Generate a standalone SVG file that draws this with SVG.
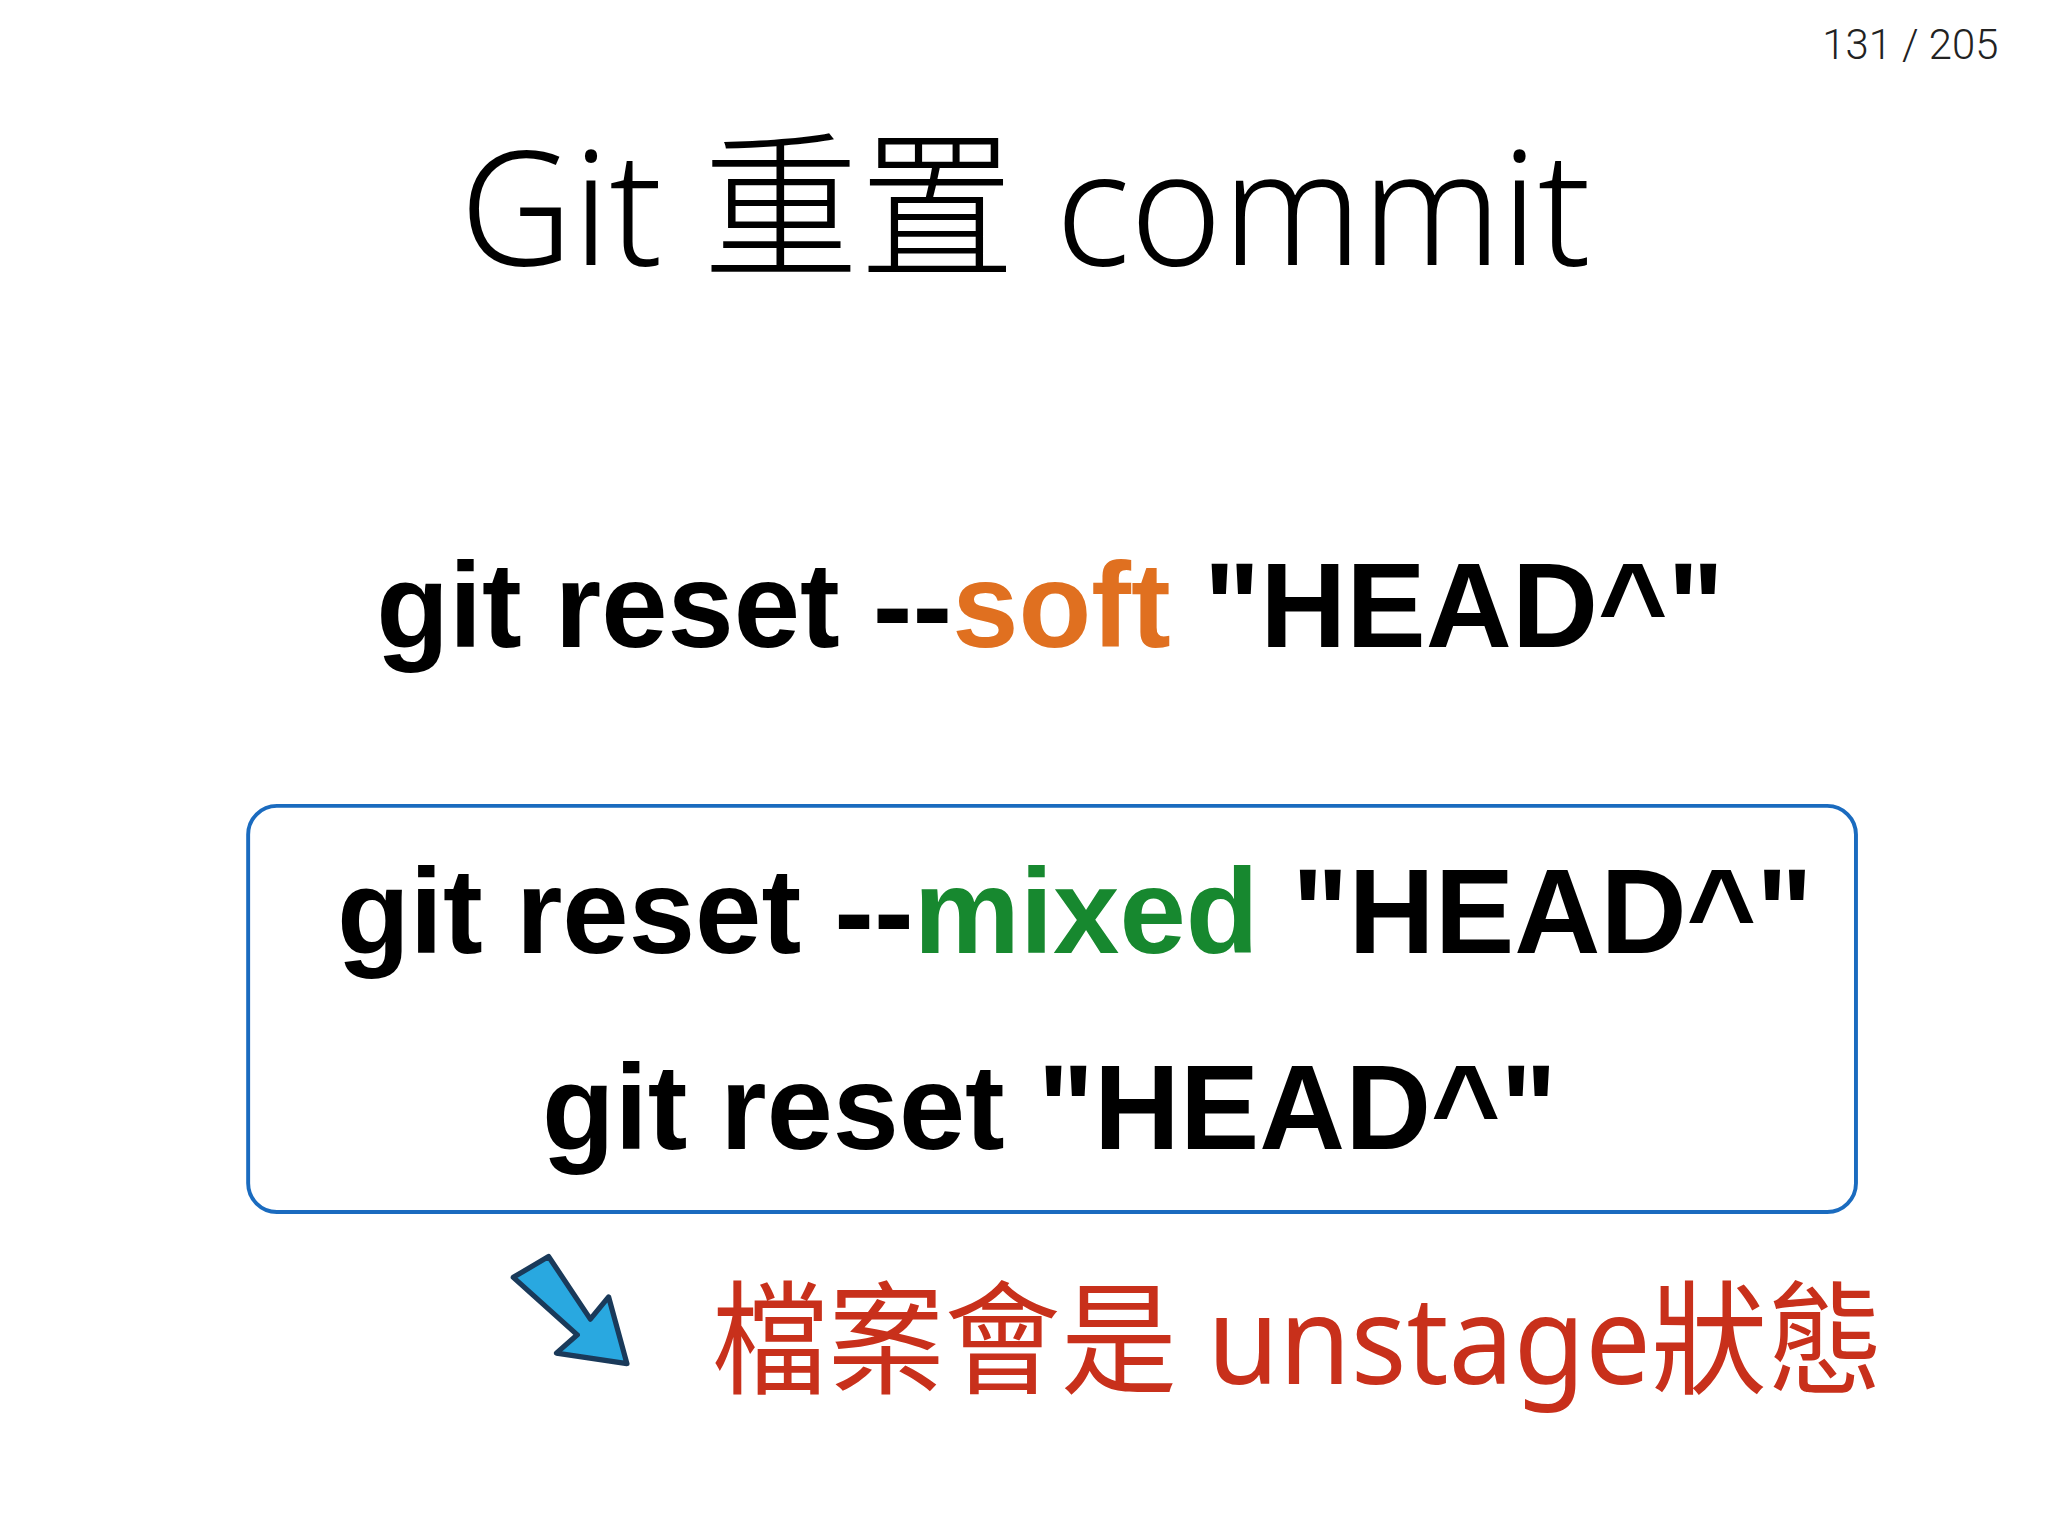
<svg xmlns="http://www.w3.org/2000/svg" width="2048" height="1536" viewBox="0 0 2048 1536">
<style>
.b{font-family:"Liberation Sans",Arial,sans-serif;font-weight:bold;font-size:92px;fill:#000}
</style>
<rect width="2048" height="1536" fill="#fff"/>
<g transform="scale(1.3061)">
<g id="pagenum"><text x="1530" y="45" text-anchor="end" font-family="Roboto,'Liberation Sans',sans-serif" font-size="32" font-weight="300" fill="#222">131 / 205</text></g>
<g id="title"><text x="352" y="203" font-family="'Noto Sans','Noto Sans CJK TC',sans-serif" font-weight="300" font-size="122" fill="#000" textLength="866" lengthAdjust="spacingAndGlyphs">Git 重置 commit</text></g>
<g id="soft"><text class="b" x="288" y="495" textLength="1032" lengthAdjust="spacingAndGlyphs">git reset --<tspan fill="#e07020">soft</tspan> "HEAD^"</text></g>
<g id="box">
<rect x="190" y="617" width="1231" height="311" rx="22" fill="none" stroke="#1a6bbf" stroke-width="3"/>
<text class="b" x="258" y="730" textLength="1130" lengthAdjust="spacingAndGlyphs">git reset --<tspan fill="#17882f">mixed</tspan> "HEAD^"</text>
<text class="b" x="415" y="880" textLength="777" lengthAdjust="spacingAndGlyphs">git reset "HEAD^"</text>
</g>
<g id="arrow">
<path d="M393,978 L420,962 L452,1010 L466,993 L480,1044 L426,1036 L442,1022 Z" fill="#29a8e0" stroke="#1a3a5a" stroke-width="4" stroke-linejoin="round"/>
</g>
<g id="note"><text x="545" y="1060" font-family="'Noto Sans','Noto Sans CJK TC',sans-serif" font-size="94" fill="#c8301b" textLength="897" lengthAdjust="spacingAndGlyphs">檔案會是 unstage狀態</text></g>
</g>
</svg>
